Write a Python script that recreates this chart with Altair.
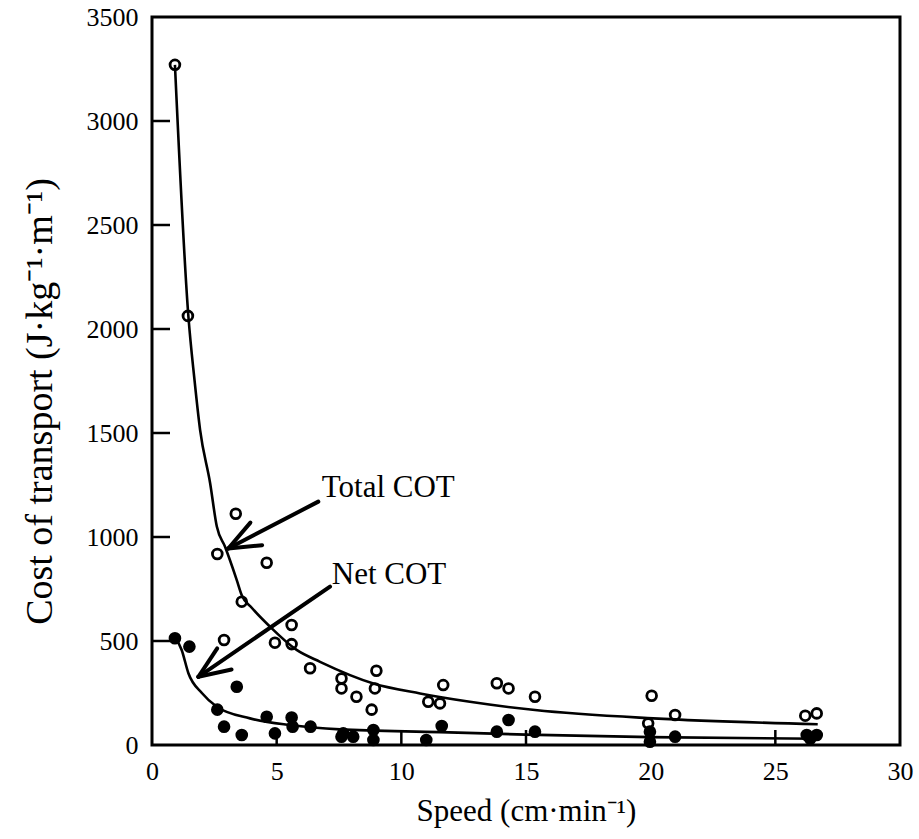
import math
import altair as alt
import pandas as pd

# ---- data ----
total_x = [0.92, 1.44, 3.36, 2.62, 4.6, 3.6, 5.6, 2.89, 4.93, 5.6, 6.34, 7.6, 7.6, 8.2, 9.0, 8.94, 8.81,
           11.08, 11.55, 11.68, 13.83, 14.3, 15.36, 20.04, 19.9, 20.98, 26.2, 26.66]
total_y = [3270, 2063, 1112, 918, 876, 689, 577, 505, 492, 485, 369, 320, 272, 232, 357, 272, 170,
           208, 200, 288, 297, 272, 232, 237, 104, 144, 141, 152]

net_x = [0.92, 1.5, 3.4, 2.62, 2.89, 3.6, 4.6, 4.93, 5.6, 5.64, 6.36, 7.6, 7.67, 8.07, 8.88, 8.88,
         11.0, 11.62, 14.3, 13.83, 15.36, 19.97, 19.97, 20.98, 26.26, 26.66, 26.4]
net_y = [513, 473, 280, 170, 88, 48, 136, 56, 132, 88, 88, 40, 56, 40, 72, 24,
         24, 91, 120, 64, 64, 64, 16, 40, 48, 48, 30]

total_curve_x = [0.92, 1.46, 1.7, 1.93, 2.33, 2.6, 2.93, 3.4, 3.6, 4.0, 4.73, 5.8, 6.74, 8.88, 10.75, 12.75, 15.36, 20.1, 26.7]
total_curve_y = [3270, 2060, 1760, 1514, 1260, 1050, 953, 793, 720, 660, 569, 457, 400, 296, 248, 208, 168, 128, 100]

net_curve_x = [0.92, 1.19, 1.46, 2.0, 2.6, 3.93, 5.53, 7.54, 11.55, 15.0, 20.0, 26.7]
net_curve_y = [520, 457, 345, 250, 184, 128, 96, 75, 62, 50, 38, 30]

x_ticks = [0, 5, 10, 15, 20, 25, 30]
y_ticks = [0, 500, 1000, 1500, 2000, 2500, 3000, 3500]

labels = ["Total COT", "Net COT"]
label_x = [6.81, 7.21]
label_y = [1192, 774]
arrow_tail_x = [6.67, 7.14]
arrow_tail_y = [1170, 761]
arrow_tip_x = [3.06, 1.86]
arrow_tip_y = [945, 328]

W, H = 748, 728
XMAX, YMAX = 30, 3500
FONT = "Liberation Serif"

xs = alt.Scale(domain=[0, XMAX], nice=False, zero=False)
ys = alt.Scale(domain=[0, YMAX], nice=False)

total_df = pd.DataFrame({"x": total_x, "y": total_y})
net_df = pd.DataFrame({"x": net_x, "y": net_y})
tc_df = pd.DataFrame({"x": total_curve_x, "y": total_curve_y, "o": range(len(total_curve_x))})
nc_df = pd.DataFrame({"x": net_curve_x, "y": net_curve_y, "o": range(len(net_curve_x))})

x_axis = alt.Axis(values=x_ticks, ticks=False, domain=False, grid=False, format="d",
                  labelFontSize=26, labelFont=FONT, labelPadding=13,
                  labelColor="black", title="Speed (cm·min⁻¹)",
                  titleFont=FONT, titleFontSize=31, titleFontWeight="normal",
                  titleColor="black", titlePadding=12, labelFlush=False)
y_axis = alt.Axis(values=y_ticks, ticks=False, domain=False, grid=False, format="d",
                  labelFontSize=26, labelFont=FONT, labelPadding=14,
                  labelColor="black", title="Cost of transport (J·kg⁻¹·m⁻¹)",
                  titleFont=FONT, titleFontSize=38, titleFontWeight="normal",
                  titleColor="black", titlePadding=27, titleY=384, labelFlush=False)

X = alt.X("x:Q", scale=xs, axis=x_axis)
Y = alt.Y("y:Q", scale=ys, axis=y_axis)

total_pts = alt.Chart(total_df).mark_point(shape="circle", filled=False, color="black",
                                           strokeWidth=2.8, size=95, opacity=1).encode(x=X, y=Y)
net_pts = alt.Chart(net_df).mark_circle(color="black", size=160, opacity=1).encode(x=X, y=Y)
total_line = alt.Chart(tc_df).mark_line(color="black", strokeWidth=2.6, interpolate="monotone").encode(
    x=X, y=Y, order="o:Q")
net_line = alt.Chart(nc_df).mark_line(color="black", strokeWidth=2.6, interpolate="monotone").encode(
    x=X, y=Y, order="o:Q")

# inward ticks
xt_df = pd.DataFrame({"x": x_ticks[1:-1]})
yt_df = pd.DataFrame({"y": y_ticks[1:-1]})
xticks = alt.Chart(xt_df).mark_rule(color="black", strokeWidth=2.5).encode(
    x=X, y=alt.value(H), y2=alt.value(H - 15))
yticks = alt.Chart(yt_df).mark_rule(color="black", strokeWidth=2.5).encode(
    y=Y, x=alt.value(0), x2=alt.value(18))

# arrows (shaft + two wings computed in pixel space)
px_x = W / XMAX
px_y = H / YMAX
segs = []
for tx, ty, hx, hy in zip(arrow_tail_x, arrow_tail_y, arrow_tip_x, arrow_tip_y):
    segs.append({"x": tx, "y": ty, "x2": hx, "y2": hy})
    dx = (tx - hx) * px_x
    dy = (ty - hy) * px_y
    ang = math.atan2(dy, dx)
    for s in (-1, 1):
        a = ang + s * math.radians(22)
        L = 34
        segs.append({"x": hx, "y": hy,
                     "x2": hx + L * math.cos(a) / px_x,
                     "y2": hy + L * math.sin(a) / px_y})
arr_df = pd.DataFrame(segs)
arrows = alt.Chart(arr_df).mark_rule(color="black", strokeWidth=4, strokeCap="round").encode(
    x=X, y=Y, x2="x2:Q", y2="y2:Q")

lab_df = pd.DataFrame({"t": labels, "x": label_x, "y": label_y})
texts = alt.Chart(lab_df).mark_text(font=FONT, fontSize=31, align="left", baseline="alphabetic",
                                    color="black").encode(x=X, y=Y, text="t:N")

chart = alt.layer(total_pts, total_line, net_line, net_pts, xticks, yticks, arrows, texts).properties(
    width=W, height=H,
    autosize=alt.AutoSizeParams(type="none"),
    padding={"left": 152, "top": 17, "right": 19, "bottom": 94},
    background="white",
).configure_view(stroke="black", strokeWidth=3)

chart.save("out.html", embed_options={"renderer": "svg", "actions": False})
